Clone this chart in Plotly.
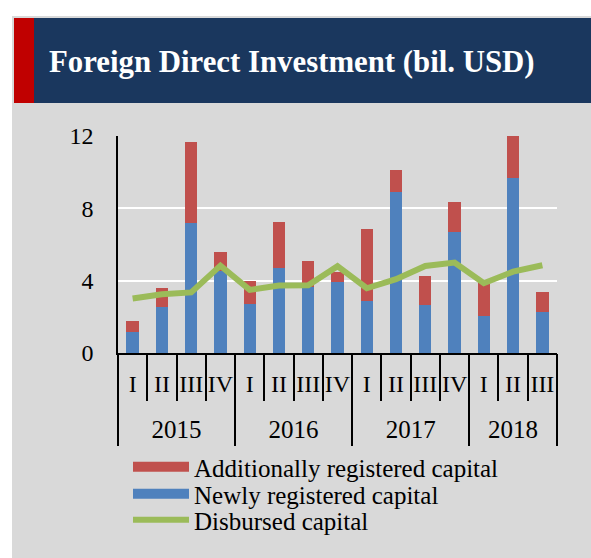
import plotly.graph_objects as go

# ---------------- data ----------------
years = ["2015"] * 4 + ["2016"] * 4 + ["2017"] * 4 + ["2018"] * 3
quarters = ["I", "II", "III", "IV"] * 3 + ["I", "II", "III"]
newly_registered = [1.16, 2.57, 7.17, 4.54, 2.70, 4.72, 3.64, 3.95, 2.87, 8.91, 2.66, 6.69, 2.06, 9.67, 2.28]
additionally_registered = [0.60, 1.05, 4.48, 1.03, 1.27, 2.50, 1.45, 0.55, 3.97, 1.19, 1.62, 1.67, 1.89, 2.31, 1.08]
disbursed = [3.01, 3.25, 3.35, 4.83, 3.49, 3.73, 3.75, 4.80, 3.58, 4.08, 4.81, 5.00, 3.86, 4.50, 4.85]
y_ticks = [0, 4, 8, 12]
title_text = "Foreign Direct Investment (bil. USD)"
names = ["Additionally registered capital", "Newly registered capital", "Disbursed capital"]

# ---------------- layout helpers ----------------
W, H = 591, 558
L, R, T, B = 118, 34, 136, 205
PW, PH = W - L - R, H - T - B
FONT = "Liberation Serif"
C_RED, C_BLUE, C_GREEN = "#c0504d", "#4f81bd", "#9bbb59"
NAVY, STRIPE, BG = "#1a375e", "#c00000", "#d9d9d9"


def px_x(x):
    return (x - L) / PW


def px_y(y):
    return (H - B - y) / PH


xcat = [years, quarters]
n_cat = len(quarters)
idx = list(range(n_cat))
q_bounds = [i - 0.5 for i in range(n_cat + 1)]
year_names = list(dict.fromkeys(years))
year_centers = [sum(i for i in idx if years[i] == y) / years.count(y) for y in year_names]
year_bounds = [-0.5] + [i - 0.5 for i in idx[1:] if years[i] != years[i - 1]] + [n_cat - 0.5]

fig = go.Figure()
fig.add_trace(go.Bar(x=xcat, y=newly_registered, marker=dict(color=C_BLUE, line=dict(width=0)),
                     name=names[1], showlegend=False))
fig.add_trace(go.Bar(x=xcat, y=additionally_registered, marker=dict(color=C_RED, line=dict(width=0)),
                     name=names[0], showlegend=False))
fig.add_trace(go.Scatter(x=xcat, y=disbursed, mode="lines", name=names[2],
                         line=dict(color=C_GREEN, width=6), legend="legend3"))
# legend entries for the bar series (wide bar-like swatches); they also carry the label axes
fig.add_trace(go.Scatter(x=[None], y=[None], xaxis="x2", mode="lines", name=names[0],
                         line=dict(color=C_RED, width=12), legend="legend"))
fig.add_trace(go.Scatter(x=[None], y=[None], xaxis="x3", mode="lines", name=names[1],
                         line=dict(color=C_BLUE, width=12), legend="legend2"))

# background / title bar
fig.add_shape(type="rect", xref="paper", yref="paper", x0=px_x(12), x1=px_x(W + 5),
              y0=px_y(16), y1=px_y(H + 5), fillcolor=BG, line=dict(width=0), layer="below")
fig.add_shape(type="rect", xref="paper", yref="paper", x0=px_x(34), x1=px_x(W + 5),
              y0=px_y(18), y1=px_y(103), fillcolor=NAVY, line=dict(width=0), layer="below")
fig.add_shape(type="rect", xref="paper", yref="paper", x0=px_x(14), x1=px_x(34),
              y0=px_y(18), y1=px_y(103), fillcolor=STRIPE, line=dict(width=0), layer="below")
fig.add_annotation(text="<b>" + title_text + "</b>", xref="paper", yref="paper",
                   x=px_x(47), y=px_y(62), xanchor="left", yanchor="middle", showarrow=False,
                   font=dict(family=FONT, size=30.8, color="white"))

legend_common = dict(xref="container", yref="container", xanchor="left", yanchor="middle",
                     bgcolor="rgba(0,0,0,0)", itemwidth=56, borderwidth=0,
                     font=dict(family=FONT, size=25, color="black"))
tick_font = dict(family=FONT, size=24, color="black")
xrange = [-0.5, n_cat - 0.5]
fig.update_layout(
    width=W, height=H, autosize=False,
    margin=dict(l=L, r=R, t=T, b=B, autoexpand=False),
    paper_bgcolor="white", plot_bgcolor="rgba(0,0,0,0)",
    barmode="stack", bargap=0.58,
    font=dict(family=FONT, size=24, color="black"),
    legend=dict(x=128 / W, y=1 - 467 / H, **legend_common),
    legend2=dict(x=128 / W, y=1 - 494 / H, **legend_common),
    legend3=dict(x=128 / W, y=1 - 520 / H, **legend_common),
    xaxis=dict(showline=True, linecolor="black", linewidth=1.5, ticks="", showticklabels=False,
               showgrid=False, range=xrange, automargin=False),
    # quarter labels with separators at category boundaries
    xaxis2=dict(overlaying="x", anchor="y", side="bottom", type="linear", range=xrange,
                tickmode="array", tickvals=idx, ticktext=quarters, ticks="",
                minor=dict(tickmode="array", tickvals=q_bounds, ticks="outside", ticklen=47,
                           tickwidth=1.5, tickcolor="black", showgrid=False),
                ticklabelstandoff=14, tickfont=tick_font,
                showgrid=False, showline=False, zeroline=False, automargin=False),
    # year labels with dividers at year boundaries
    xaxis3=dict(overlaying="x", anchor="y", side="bottom", type="linear", range=xrange,
                tickmode="array", tickvals=year_centers, ticktext=year_names, ticks="",
                minor=dict(tickmode="array", tickvals=year_bounds, ticks="outside", ticklen=92,
                           tickwidth=1.5, tickcolor="black", showgrid=False),
                ticklabelstandoff=59, tickfont=dict(family=FONT, size=25, color="black"),
                showgrid=False, showline=False, zeroline=False, automargin=False),
    yaxis=dict(range=[0, 12], tickvals=y_ticks, showgrid=True, gridcolor="white", gridwidth=1.5,
               showline=True, linecolor="black", linewidth=1.5, zeroline=False, ticks="",
               ticklabelstandoff=18, automargin=False, tickfont=tick_font),
)

fig.write_html("out.html", config={"displayModeBar": False},
               post_script="document.body.style.margin='0';document.body.style.overflow='hidden';")
